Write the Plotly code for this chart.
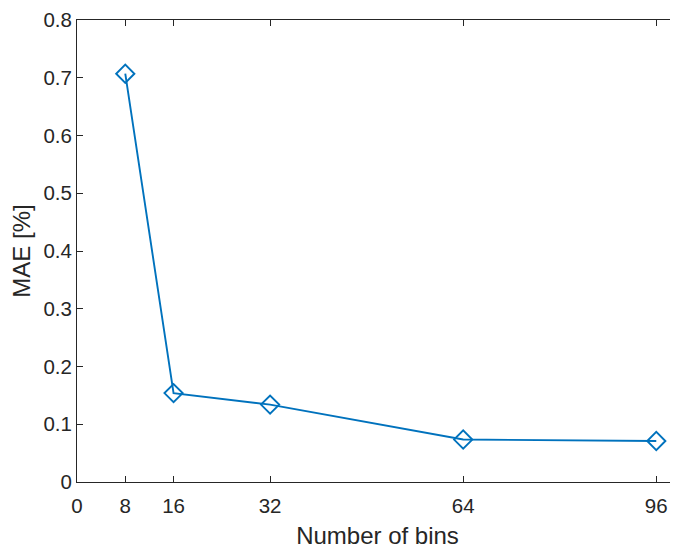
import plotly.graph_objects as go

bins = [8, 16, 32, 64, 96]
mae = [0.707, 0.154, 0.134, 0.0735, 0.071]
xticks = [0, 8, 16, 32, 64, 96]
yticks = [0, 0.1, 0.2, 0.3, 0.4, 0.5, 0.6, 0.7, 0.8]

BLUE = "#0072BD"
AX = "#262626"
FONT = "Liberation Sans, Arial, Helvetica, sans-serif"

fig = go.Figure()
fig.add_trace(go.Scatter(
    x=bins, y=mae, mode="lines+markers",
    line=dict(color=BLUE, width=1.9),
    marker=dict(symbol="diamond-open", size=14, color=BLUE, line=dict(width=1.9, color=BLUE)),
    showlegend=False, cliponaxis=False,
))
# invisible trace to attach the right-side tick axis
fig.add_trace(go.Scatter(x=[None], y=[None], yaxis="y2", showlegend=False, hoverinfo="skip"))

# page body has an 8px margin: compensate so the axes land where they should
fig.update_layout(
    width=670, height=541,
    margin=dict(l=69, r=0, t=6, b=67),
    paper_bgcolor="white", plot_bgcolor="white",
    font=dict(family=FONT, color=AX, size=20.5),
    xaxis=dict(
        range=[0, 99.6], tickvals=xticks, ticktext=[str(v) for v in xticks],
        ticks="inside", ticklen=6, tickwidth=1, tickcolor=AX,
        showline=True, linecolor=AX, linewidth=1, mirror="ticks",
        showgrid=False, zeroline=False, ticklabelstandoff=5,
        ticklabeloverflow="allow",
        title=dict(text="Number of bins", font=dict(size=24, color=AX), standoff=14),
        tickfont=dict(size=20.5, color=AX),
    ),
    yaxis=dict(
        range=[0, 0.8], tickvals=yticks, ticktext=["0" if v == 0 else f"{v:.1f}" for v in yticks],
        ticks="inside", ticklen=6, tickwidth=1, tickcolor=AX,
        showline=True, linecolor=AX, linewidth=1, mirror=False,
        showgrid=False, zeroline=False, ticklabeloverflow="allow",
        title=dict(text="MAE [%]", font=dict(size=24, color=AX), standoff=10),
        tickfont=dict(size=20.5, color=AX),
    ),
    yaxis2=dict(
        overlaying="y", side="right", matches="y", range=[0, 0.8], tickvals=yticks,
        ticks="inside", ticklen=6, tickwidth=1, tickcolor=AX,
        showticklabels=False, showline=False, showgrid=False, zeroline=False,
    ),
)

fig.write_html("out.html")
